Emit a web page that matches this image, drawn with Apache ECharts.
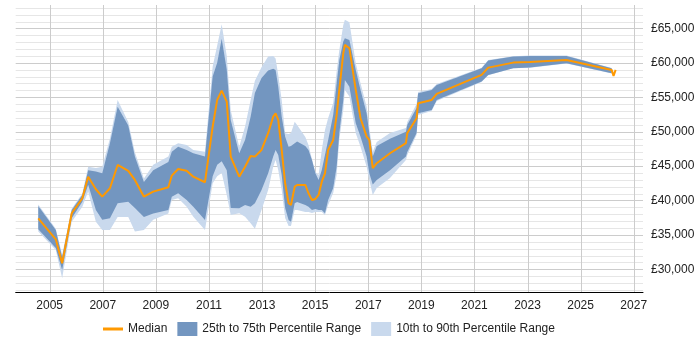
<!DOCTYPE html>
<html>
<head>
<meta charset="utf-8">
<script src="https://cdn.jsdelivr.net/npm/echarts@6/dist/echarts.min.js"></script>
<style>
html,body{margin:0;padding:0;background:#fff;}
#c{width:700px;height:350px;}
</style>
</head>
<body>
<div id="c"></div>
<script>
// Decimal years of each sample
const years = [2004.57,2005.23,2005.47,2005.83,2006.23,2006.45,2006.74,2006.98,2007.27,2007.56,2007.96,2008.21,2008.55,2008.90,2009.47,2009.60,2009.84,2010.16,2010.41,2010.85,2011.14,2011.31,2011.48,2011.67,2011.82,2012.14,2012.36,2012.57,2012.73,2012.98,2013.23,2013.42,2013.51,2013.61,2013.74,2013.87,2014.00,2014.09,2014.23,2014.32,2014.63,2014.75,2014.88,2015.01,2015.13,2015.25,2015.37,2015.49,2015.68,2015.81,2015.91,2016.06,2016.12,2016.29,2016.53,2016.71,2016.94,2017.04,2017.17,2017.32,2017.82,2018.42,2018.47,2018.82,2018.88,2019.39,2019.58,2021.27,2021.52,2022.46,2023.09,2024.47,2026.17,2026.24,2026.32];
const p10 = [35500,32800,28700,36900,39100,41300,36900,35700,35700,37600,37600,35500,35700,37200,38100,40070,40320,39100,37650,35710,42500,43500,44000,40800,37900,38140,37650,36690,35900,38620,41530,44910,45890,44430,41530,37460,36300,36300,38620,38620,38330,38330,38180,38330,38330,38330,37890,39350,41090,43700,48790,53150,56060,55090,49770,47820,44910,42980,40800,41820,43270,45890,46610,49520,52430,53010,54460,57220,58200,59200,59300,59900,58450,null,null];
const p25 = [35800,33100,29900,37400,39800,42300,38600,37200,37400,39600,39800,38900,37600,38100,38600,40550,41050,40070,39100,37170,43500,45200,45700,44400,38900,38870,39350,39100,39600,41530,43950,46370,47340,46610,43700,38910,37170,36920,39590,39780,39350,39100,38620,38770,38620,38620,38140,40070,41820,44910,49770,54610,57510,56540,51220,49270,46370,43950,42310,42980,44400,46370,47050,49810,52670,53150,54610,57270,58240,59220,59310,59940,58490,null,null];
const median = [37400,34360,30870,38140,40320,43460,41630,40550,41770,45160,44290,42980,40550,41280,41920,43610,44580,44330,43460,42650,50730,54610,55960,54360,46370,43460,44910,46470,46370,47340,49770,52180,52670,51700,47340,42500,39590,39350,42010,42250,42250,41050,40070,40220,40800,42730,43950,47340,48790,52430,56060,61390,62600,62120,56060,51950,49270,48790,44680,45410,46860,48320,49770,51950,54130,54610,55480,58240,59300,60030,60130,60420,58970,58100,58970];
const p75 = [39200,35700,31800,38600,40800,44400,44200,43950,48300,53600,50900,46400,42700,44400,45600,47090,47820,47340,46860,46370,58000,60000,63500,59000,51700,46860,48790,52180,55600,57800,58900,59150,58970,56540,52180,49270,47820,47920,48310,48550,47920,47340,45890,43950,42980,44430,46610,48790,52430,57040,60420,63080,63570,63330,58970,56060,52670,49770,46370,47920,48960,50000,50970,53440,55580,56060,56790,59220,60320,60900,61000,61000,59220,null,null];
const p90 = [39400,35900,32100,38800,41000,44900,44700,44900,49000,54600,51400,47000,43200,45200,46400,47820,48320,48070,47340,47090,59450,62500,65600,61000,53100,47820,50730,54610,57400,59340,60930,61000,60640,58240,54610,49770,49670,49810,51450,50970,49230,48070,45990,44140,43700,47340,50250,51990,54170,58720,61870,65510,66240,65880,59940,57040,53630,50540,47090,48500,49810,50540,51410,54030,55770,56200,56930,59300,60400,60950,61050,61050,59260,null,null];

const xTicks = [2005,2007,2009,2011,2013,2015,2017,2019,2021,2023,2025,2027];
const yTicks = [30000,35000,40000,45000,50000,55000,60000,65000];
const yMinorStep = 1000;

const names = {
  median: 'Median',
  iqr: '25th to 75th Percentile Range',
  wide: '10th to 90th Percentile Range'
};
const colors = { median: '#ff9900', iqr: '#7396c0', wide: '#c9d9ed' };

const yMin = 26700, yMax = 68400;
const xMin = 2003.72, xMax = 2027.35;

const fontFamily = 'Liberation Sans, Arial, sans-serif';

// horizontal gridline values (minor every 1000, majors at the labelled ticks)
const yGrid = [];
for (let v = 27000; v <= 68000; v += yMinorStep) yGrid.push(v);

const fmtMoney = v => '£' + String(v).replace(/\B(?=(\d{3})+(?!\d))/g, ',');

function bandData(lo, hi) {
  const out = [];
  years.forEach((y, i) => { if (lo[i] != null && hi[i] != null) out.push([y, lo[i], hi[i]]); });
  return out;
}

function bandSeries(name, lo, hi, color, z) {
  const data = bandData(lo, hi);
  return {
    type: 'custom', name: name, z: z, silent: true, animation: false,
    itemStyle: { color: color },
    encode: { x: 0, y: [1, 2] },
    data: data,
    renderItem: function (params, api) {
      if (params.dataIndex !== 0) return null;
      const top = [], bottom = [];
      data.forEach(d => {
        top.push(api.coord([d[0], d[2]]));
        bottom.push(api.coord([d[0], d[1]]));
      });
      const pts = top.concat(bottom.reverse());
      return {
        type: 'polygon',
        shape: { points: pts },
        style: { fill: color, stroke: null }
      };
    }
  };
}

const crisp = p => Math.round(p) + 0.5;

const hGridSeries = {
  type: 'custom', name: 'hgrid', z: 0, silent: true, animation: false, clip: false,
  data: yGrid.map(v => [xMin, v]),
  encode: { x: 0, y: 1 },
  renderItem: function (params, api) {
    const cs = params.coordSys;
    const v = api.value(1);
    const y = crisp(api.coord([xMin, v])[1]);
    const major = yTicks.indexOf(v) >= 0;
    return {
      type: 'line',
      shape: { x1: cs.x, y1: y, x2: cs.x + cs.width, y2: y },
      style: { stroke: major ? '#cccccc' : '#e6e6e6', lineWidth: 1 }
    };
  }
};

const vGridSeries = {
  type: 'custom', name: 'vgrid', z: 1, silent: true, animation: false, clip: false,
  data: xTicks.map(x => [x, yMin]),
  encode: { x: 0, y: 1 },
  renderItem: function (params, api) {
    const cs = params.coordSys;
    const x = crisp(api.coord([api.value(0), yMin])[0]);
    return {
      type: 'line',
      shape: { x1: x, y1: cs.y, x2: x, y2: cs.y + cs.height },
      style: { stroke: '#cccccc', lineWidth: 1 }
    };
  }
};

const chart = echarts.init(document.getElementById('c'), null, { renderer: 'canvas' });
chart.setOption({
  animation: false,
  grid: { left: 15.7, right: 57, top: 5, bottom: 58, containLabel: false },
  xAxis: {
    type: 'value', min: xMin, max: xMax,
    axisLine: { show: true, lineStyle: { color: '#000', width: 1 } },
    axisTick: { show: false, customValues: xTicks },
    splitLine: { show: false },
    axisLabel: { customValues: xTicks, formatter: v => String(v), color: '#222', fontSize: 12, fontFamily: fontFamily, margin: 8 }
  },
  yAxis: {
    type: 'value', position: 'right', min: yMin, max: yMax,
    axisLine: { show: false }, axisTick: { show: false }, splitLine: { show: false },
    axisLabel: { customValues: yTicks, formatter: fmtMoney, color: '#222', fontSize: 12, fontFamily: fontFamily, margin: 8 }
  },
  legend: {
    bottom: 9, left: 98, itemWidth: 20, itemHeight: 14, itemGap: 10,
    symbolKeepAspect: true,
    textStyle: { fontSize: 12, color: '#222', fontFamily: fontFamily },
    data: [
      { name: names.median, icon: 'path://M0,0L20,0L20,3L0,3Z', itemStyle: { color: colors.median } },
      { name: names.iqr, icon: 'rect', itemStyle: { color: colors.iqr } },
      { name: names.wide, icon: 'rect', itemStyle: { color: colors.wide } }
    ]
  },
  series: [
    hGridSeries,
    vGridSeries,
    bandSeries(names.wide, p10, p90, colors.wide, 2),
    bandSeries(names.iqr, p25, p75, colors.iqr, 3),
    {
      type: 'line', name: names.median, z: 4, silent: true, animation: false,
      symbol: 'none', showSymbol: false,
      data: years.map((y, i) => [y, median[i]]),
      color: colors.median,
      lineStyle: { color: colors.median, width: 2 }
    }
  ]
});
</script>
</body>
</html>
